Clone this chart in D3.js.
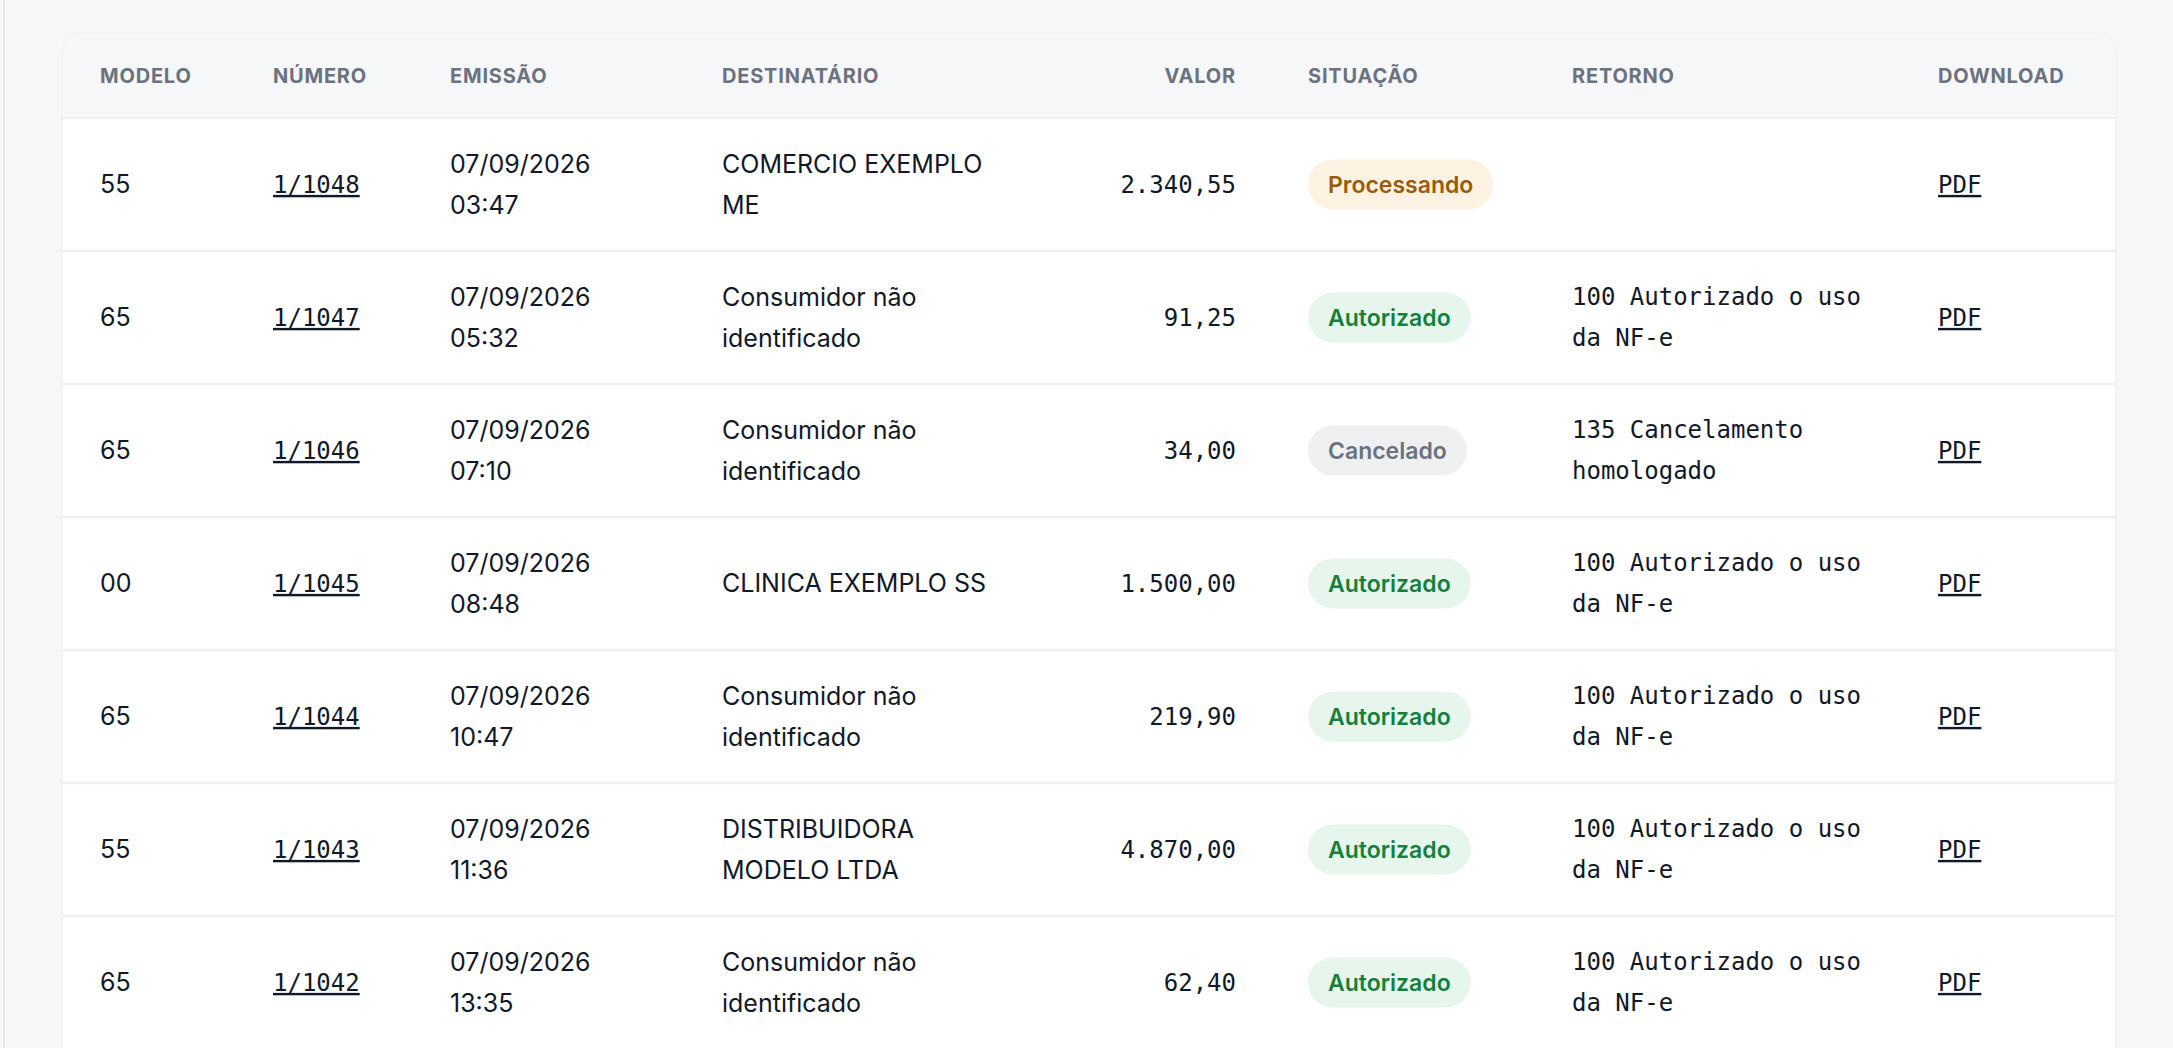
<!DOCTYPE html>
<html><head><meta charset="utf-8">
<script src="https://cdn.jsdelivr.net/npm/d3@7"></script>
<style>html,body{margin:0;padding:0;background:#f6f7f9;}svg{display:block}</style>
</head><body><svg id="c" width="2173" height="1048"></svg>
<script>
const modelos=["55","65","65","00","65","55","65"];
const numeros=["1/1048","1/1047","1/1046","1/1045","1/1044","1/1043","1/1042"];
const datas=["07/09/2026","07/09/2026","07/09/2026","07/09/2026","07/09/2026","07/09/2026","07/09/2026"];
const horas=["03:47","05:32","07:10","08:48","10:47","11:36","13:35"];
const destinatarios=[["COMERCIO EXEMPLO","ME"],["Consumidor não","identificado"],["Consumidor não","identificado"],["CLINICA EXEMPLO SS"],["Consumidor não","identificado"],["DISTRIBUIDORA","MODELO LTDA"],["Consumidor não","identificado"]];
const valores=[2340.55,91.25,34.00,1500.00,219.90,4870.00,62.40];
const situacoes=["Processando","Autorizado","Cancelado","Autorizado","Autorizado","Autorizado","Autorizado"];
const retornos=[[],["100 Autorizado o uso","da NF-e"],["135 Cancelamento","homologado"],["100 Autorizado o uso","da NF-e"],["100 Autorizado o uso","da NF-e"],["100 Autorizado o uso","da NF-e"],["100 Autorizado o uso","da NF-e"]];
const cabecalhos=["MODELO","NÚMERO","EMISSÃO","DESTINATÁRIO","VALOR","SITUAÇÃO","RETORNO","DOWNLOAD"];

(function(){
const svg=d3.select("#c");
const sans="Inter, 'Noto Sans', sans-serif", mono="'DejaVu Sans Mono', monospace";
const badge={Processando:{bg:"#fef3e2",fg:"#9a5b0b"},Autorizado:{bg:"#e7f6ec",fg:"#15803d"},Cancelado:{bg:"#eff0f2",fg:"#6b7280"}};
const fmt=v=>{const s=v.toFixed(2).split(".");return s[0].replace(/\B(?=(\d{3})+(?!\d))/g,".")+","+s[1];};

svg.append("rect").attr("x",3).attr("y",0).attr("width",2).attr("height",1048).attr("fill","#e4e6ea");
const L=62,R=2116,T=33,headH=85,rowH=133;
const y=d3.scaleBand().domain(d3.range(modelos.length)).range([T+headH,T+headH+rowH*modelos.length]);
svg.append("path").attr("d",`M${L},1068 V${T+22} Q${L},${T} ${L+22},${T} H${R-22} Q${R},${T} ${R},${T+22} V1068 Z`).attr("fill","#fff").attr("stroke","#eef0f3").attr("stroke-width",1.5);
svg.append("path").attr("d",`M${L},${T+headH} V${T+22} Q${L},${T} ${L+22},${T} H${R-22} Q${R},${T} ${R},${T+22} V${T+headH} Z`).attr("fill","#f6f7f9");
const colX=[100,273,450,722,1236,1308,1572,1938];
const anchors=["start","start","start","start","end","start","start","start"];
svg.selectAll("text.h").data(cabecalhos).join("text").attr("class","h")
 .attr("x",(d,i)=>colX[i]).attr("y",T+headH/2).attr("dy","0.35em").attr("text-anchor",(d,i)=>anchors[i])
 .attr("font-family",sans).attr("font-weight",700).attr("font-size",20).attr("letter-spacing",0.8).attr("fill","#6b7280").text(d=>d);
const rows=svg.selectAll("g.r").data(d3.range(modelos.length)).join("g").attr("class","r").attr("transform",i=>`translate(0,${y(i)})`);
rows.append("line").attr("x1",L).attr("x2",R).attr("y1",0).attr("y2",0).attr("stroke","#eef0f3").attr("stroke-width",2.5);
const c=rowH/2, lh=41;
function lines(g,x,arr,font,size,anchor){
  const t=g.append("text").attr("font-family",font).attr("font-size",size).attr("fill","#111827").attr("text-anchor",anchor||"start");
  arr.forEach((s,k)=>t.append("tspan").attr("x",x).attr("y",c+(k-(arr.length-1)/2)*lh).attr("dy","0.35em").text(s));
  return t;
}
rows.each(function(i){
  const g=d3.select(this);
  lines(g,colX[0],[modelos[i]],sans,25);
  lines(g,colX[1],[numeros[i]],mono,24).attr("text-decoration","underline");
  lines(g,colX[2],[datas[i],horas[i]],sans,25);
  lines(g,colX[3],destinatarios[i],sans,25);
  lines(g,colX[4],[fmt(valores[i])],mono,24,"end");
  const b=badge[situacoes[i]];
  const bt=g.append("text").attr("x",colX[5]+20).attr("y",c).attr("dy","0.35em").attr("font-family",sans).attr("font-weight",600).attr("font-size",23).attr("fill",b.fg).text(situacoes[i]);
  const w=bt.node().getComputedTextLength()+40;
  g.insert("rect","text").attr("x",colX[5]).attr("y",c-25).attr("width",w).attr("height",50).attr("rx",25).attr("fill",b.bg);
  if(retornos[i].length) lines(g,colX[6],retornos[i],mono,24);
  lines(g,colX[7],["PDF"],mono,24).attr("text-decoration","underline");
});
})();
</script></body></html>
